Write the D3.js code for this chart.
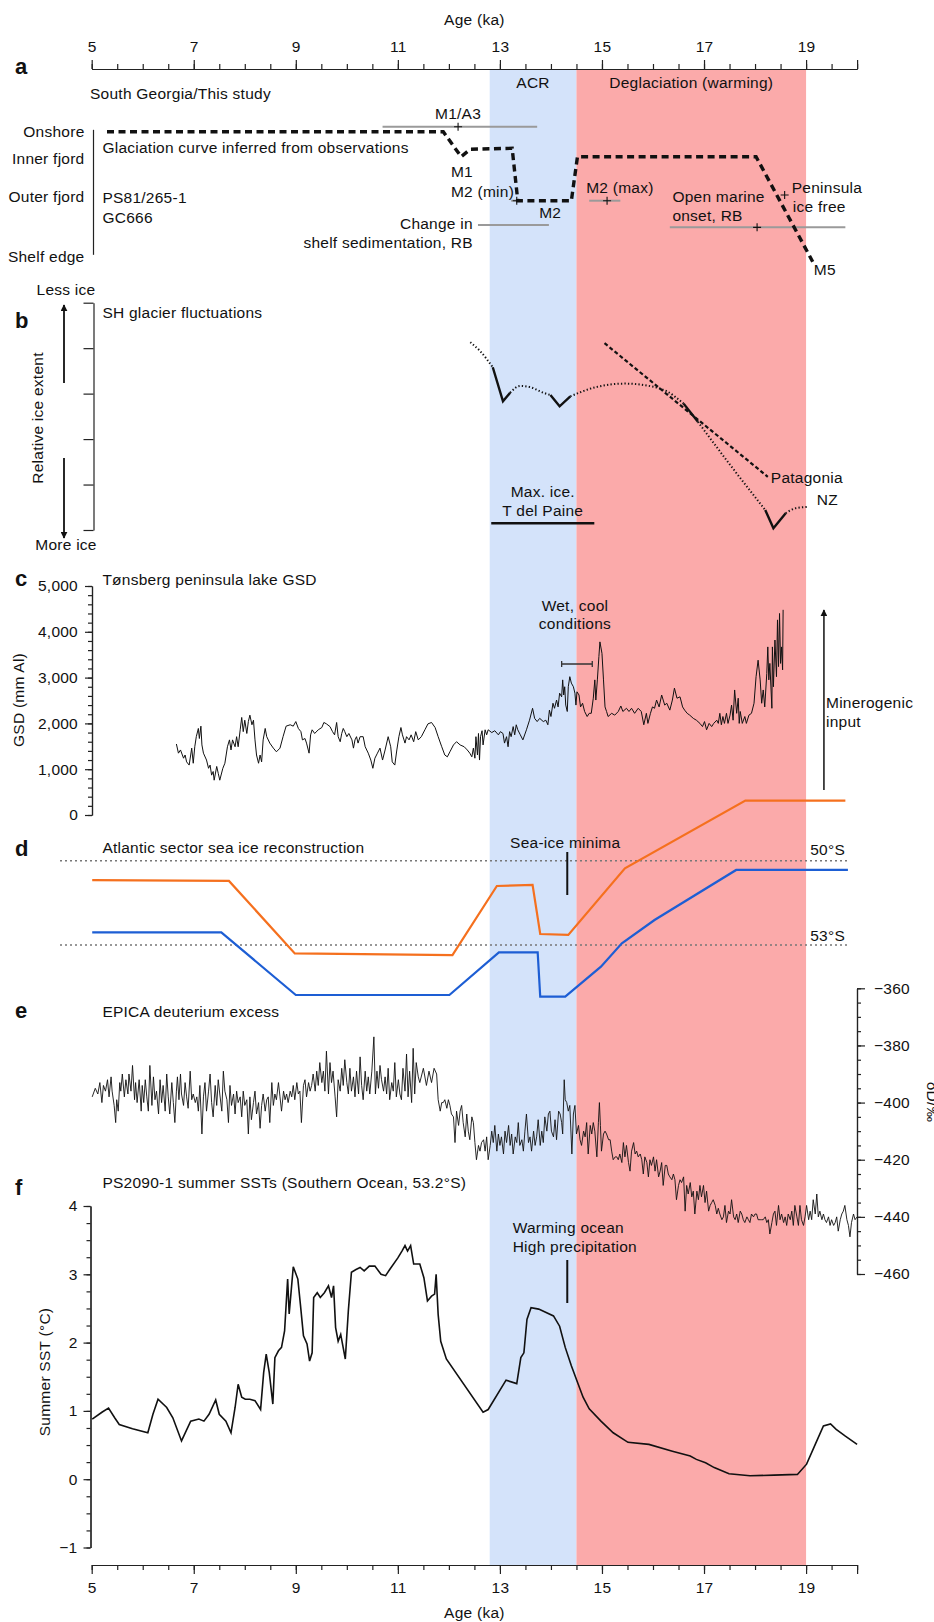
<!DOCTYPE html>
<html>
<head>
<meta charset="utf-8">
<script src="https://cdn.jsdelivr.net/npm/d3@7"></script>
<style>
  body { margin: 0; background: #fff; }
  svg text { font-family: "Liberation Sans", Arial, sans-serif; font-size: 15.5px; letter-spacing: 0.25px; fill: #111; }
  .axis path, .axis line { stroke: #222; stroke-width: 1.2; }
  .axis text { font-size: 15.5px; }
</style>
</head>
<body>
<div id="chart"></div>
<script>
// ---- data ----
const ageMajor = [5, 7, 9, 11, 13, 15, 17, 19, 20];
const ageMinor = d3.range(5, 20.01, 0.5);
const acrBand = [12.8, 14.5];
const deglacBand = [14.5, 19.0];

// panel a: position 0 = onshore ... 10 = shelf edge
const aLevels = [["Onshore", 0], ["Inner fjord", 2.18], ["Outer fjord", 5.22], ["Shelf edge", 10]];
const glaciation = [[5.30, 0], [11.89, 0], [12.24, 2.0], [12.42, 1.4], [13.24, 1.33], [13.35, 5.52],
  [14.40, 5.52], [14.52, 2.0], [18.02, 2.0], [19.13, 10.4]];
// [from, to, position]
const ageRanges = [[10.70, 13.73, -0.4], [13.22, 13.45, 5.52], [14.75, 15.36, 5.52],
  [12.57, 13.96, 7.46], [16.33, 19.77, 7.65]];
// [age, position]
const ageMarks = [[12.18, -0.4], [13.33, 5.52], [15.10, 5.52], [18.04, 7.65], [18.58, 5.06]];

// panel b: relative ice extent, 0 = less ice ... 5 = more ice
const nzDotted = [
  [[12.42, 0.87], [12.6, 1.05], [12.86, 1.42]],
  [[13.2, 1.98], [13.4, 1.83], [13.6, 1.86], [13.85, 1.98], [13.99, 2.03]],
  [[14.38, 2.06], [14.87, 1.86], [15.45, 1.78], [15.92, 1.83], [16.27, 1.95], [16.6, 2.22]],
  [[16.88, 2.62], [17.5, 3.55], [18.2, 4.56]],
  [[18.6, 4.63], [18.8, 4.52], [19.05, 4.49]]
];
const nzSolid = [
  [[12.86, 1.42], [13.06, 2.17], [13.2, 1.98]],
  [[13.99, 2.03], [14.17, 2.28], [14.38, 2.06]],
  [[16.6, 2.22], [16.88, 2.62]],
  [[18.2, 4.56], [18.36, 4.96], [18.6, 4.63]]
];
const patagonia = [[15.05, 0.89], [18.25, 3.83]];
const maxIceTdP = [12.83, 14.85];

// panel c: GSD (mm Al)
const gsd = [[6.66,1550],[6.70,1350],[6.74,1420],[6.80,1240],[6.83,1310],[6.86,1160],[6.91,1090],[6.96,1460],[6.99,1130],[7.02,1490],[7.05,1710],[7.09,1890],[7.11,1670],[7.14,1940],[7.16,1530],[7.19,1350],[7.25,1200],[7.29,1020],[7.32,1090],[7.35,870],[7.38,950],[7.40,760],[7.45,1060],[7.48,910],[7.51,760],[7.57,1020],[7.61,1130],[7.66,1490],[7.70,1640],[7.73,1420],[7.76,1640],[7.81,1490],[7.84,1710],[7.87,1490],[7.91,1860],[7.94,2130],[7.97,1820],[8.00,2070],[8.04,1780],[8.07,2040],[8.10,2180],[8.14,1970],[8.17,2070],[8.20,1640],[8.23,1310],[8.27,1130],[8.30,1310],[8.33,1160],[8.36,1640],[8.40,1890],[8.43,1710],[8.49,1570],[8.56,1460],[8.62,1380],[8.69,1460],[8.75,1710],[8.81,1940],[8.89,1970],[8.95,1940],[9.00,2040],[9.05,1890],[9.10,1820],[9.13,1640],[9.18,1670],[9.21,1570],[9.26,1350],[9.29,1750],[9.32,1860],[9.37,1780],[9.44,1860],[9.51,1910],[9.55,2020],[9.60,1990],[9.67,1930],[9.72,1820],[9.76,1750],[9.80,2020],[9.83,1710],[9.87,1600],[9.90,1780],[9.93,1890],[9.96,1820],[10.00,1710],[10.04,1780],[10.10,1640],[10.13,1460],[10.16,1640],[10.19,1710],[10.22,1570],[10.26,1710],[10.32,1710],[10.36,1490],[10.42,1350],[10.47,1200],[10.51,1020],[10.55,1240],[10.60,1350],[10.65,1460],[10.70,1200],[10.75,1420],[10.81,1710],[10.86,1490],[10.89,1160],[10.94,1090],[10.98,1420],[11.02,1710],[11.06,1910],[11.09,1750],[11.14,1570],[11.17,1710],[11.22,1640],[11.26,1750],[11.31,1600],[11.35,1820],[11.40,1640],[11.46,1710],[11.53,1860],[11.59,1990],[11.66,2020],[11.73,1910],[11.79,1710],[11.86,1490],[11.92,1310],[11.97,1270],[12.02,1380],[12.09,1530],[12.15,1600],[12.22,1530],[12.30,1490],[12.36,1420],[12.41,1350],[12.45,1270],[12.48,1460],[12.51,1240],[12.53,1710],[12.56,1310],[12.58,1780],[12.60,1200],[12.62,1710],[12.65,1840],[12.67,1530],[12.71,1860],[12.74,1750],[12.77,1860],[12.84,1800],[12.90,1840],[12.97,1750],[13.01,1820],[13.06,1780],[13.09,1570],[13.13,1710],[13.16,1490],[13.19,1820],[13.22,1710],[13.26,1930],[13.29,1750],[13.32,1970],[13.35,1860],[13.40,1750],[13.45,1640],[13.52,1860],[13.58,2070],[13.64,2330],[13.68,2110],[13.73,2040],[13.78,2110],[13.85,2040],[13.90,2070],[13.94,1970],[13.97,2290],[14.00,2150],[14.04,2440],[14.07,2330],[14.11,2510],[14.14,2360],[14.17,2660],[14.21,2580],[14.23,2950],[14.25,2620],[14.27,2800],[14.29,2400],[14.32,2260],[14.34,2800],[14.37,3020],[14.40,2880],[14.44,2800],[14.47,2660],[14.49,2400],[14.51,2690],[14.55,2620],[14.58,2360],[14.62,2440],[14.66,2260],[14.71,2150],[14.75,2220],[14.79,2220],[14.83,2550],[14.86,2950],[14.88,2510],[14.91,2950],[14.94,3460],[14.96,3780],[15.00,3530],[15.03,2950],[15.06,2360],[15.09,2260],[15.12,2150],[15.19,2220],[15.25,2180],[15.32,2260],[15.37,2380],[15.41,2260],[15.48,2330],[15.53,2260],[15.58,2330],[15.64,2220],[15.71,2330],[15.77,2260],[15.82,1970],[15.87,2220],[15.90,2000],[15.95,2220],[15.99,2360],[16.03,2330],[16.07,2510],[16.12,2360],[16.17,2620],[16.20,2510],[16.23,2400],[16.27,2440],[16.33,2290],[16.38,2510],[16.42,2770],[16.47,2550],[16.53,2580],[16.58,2360],[16.62,2290],[16.67,2220],[16.72,2180],[16.79,2110],[16.85,2070],[16.92,2000],[16.97,1930],[17.01,2040],[17.05,1860],[17.10,2000],[17.15,1930],[17.19,2000],[17.25,2070],[17.28,2000],[17.31,2220],[17.34,1970],[17.37,2150],[17.40,2000],[17.44,2220],[17.47,2000],[17.51,2180],[17.54,2400],[17.57,2070],[17.60,2730],[17.64,2220],[17.67,2550],[17.69,2000],[17.71,2260],[17.75,2000],[17.80,2150],[17.83,2000],[17.88,2180],[17.93,2220],[17.98,2440],[18.02,3020],[18.06,3380],[18.10,2950],[18.13,2440],[18.16,2730],[18.19,2360],[18.23,3090],[18.25,3670],[18.27,2950],[18.29,3310],[18.33,2330],[18.34,3670],[18.36,2800],[18.39,3820],[18.42,3020],[18.44,4260],[18.46,3240],[18.48,4400],[18.50,3310],[18.52,3670],[18.54,3170],[18.55,4480]];
const gsdTicks = [0, 1000, 2000, 3000, 4000, 5000];
const wetCoolRange = [14.21, 14.81];

// panel d: sea ice edge latitude (deg S)
const seaIceOrange = [[5.01,50.69],[7.69,50.72],[8.98,53.30],[12.07,53.36],[12.94,50.90],[13.64,50.86],[13.79,52.61],[14.34,52.64],[15.45,50.27],[17.81,47.86],[19.77,47.86]];
const seaIceBlue = [[5.01,52.55],[7.54,52.55],[9.00,54.78],[12.01,54.78],[12.98,53.26],[13.74,53.26],[13.79,54.84],[14.28,54.84],[14.98,53.77],[15.39,52.94],[16.03,52.11],[17.63,50.33],[19.82,50.33]];
const latRefs = [50, 53];
const seaIceMinimaAge = 14.32;

// panel e: EPICA dD (permil)
const epica = [[5.01,-398],[5.07,-395],[5.12,-397],[5.16,-393],[5.20,-400],[5.23,-394],[5.27,-396],[5.31,-392],[5.34,-398],[5.38,-391],[5.40,-396],[5.44,-401],[5.47,-407],[5.49,-399],[5.52,-403],[5.55,-393],[5.57,-396],[5.60,-390],[5.64,-398],[5.67,-392],[5.71,-397],[5.73,-390],[5.77,-396],[5.80,-387],[5.84,-399],[5.86,-393],[5.89,-400],[5.93,-392],[5.97,-403],[5.99,-394],[6.02,-400],[6.05,-392],[6.08,-398],[6.11,-403],[6.14,-387],[6.18,-401],[6.21,-391],[6.24,-399],[6.27,-396],[6.31,-404],[6.34,-392],[6.37,-400],[6.40,-394],[6.44,-403],[6.47,-390],[6.50,-398],[6.53,-404],[6.57,-393],[6.60,-400],[6.63,-407],[6.66,-396],[6.68,-391],[6.71,-399],[6.74,-390],[6.76,-397],[6.80,-401],[6.83,-393],[6.86,-398],[6.89,-402],[6.93,-389],[6.96,-399],[6.99,-397],[7.03,-400],[7.06,-398],[7.09,-403],[7.12,-394],[7.16,-411],[7.19,-398],[7.22,-393],[7.25,-403],[7.29,-396],[7.32,-390],[7.35,-400],[7.38,-405],[7.42,-394],[7.45,-401],[7.48,-392],[7.51,-397],[7.55,-403],[7.58,-389],[7.61,-396],[7.65,-399],[7.68,-407],[7.71,-394],[7.74,-401],[7.78,-397],[7.81,-404],[7.84,-396],[7.87,-400],[7.91,-398],[7.94,-405],[7.97,-396],[8.00,-401],[8.04,-399],[8.07,-411],[8.10,-398],[8.13,-406],[8.17,-400],[8.20,-396],[8.23,-404],[8.27,-400],[8.30,-409],[8.33,-401],[8.36,-397],[8.40,-403],[8.43,-399],[8.46,-398],[8.49,-407],[8.53,-393],[8.56,-401],[8.59,-397],[8.62,-399],[8.66,-393],[8.69,-398],[8.72,-403],[8.76,-396],[8.79,-399],[8.82,-397],[8.85,-400],[8.89,-396],[8.92,-398],[8.95,-394],[8.98,-399],[9.02,-393],[9.05,-397],[9.08,-396],[9.11,-407],[9.15,-394],[9.18,-392],[9.21,-398],[9.25,-393],[9.28,-396],[9.31,-394],[9.34,-390],[9.38,-396],[9.41,-389],[9.44,-394],[9.47,-386],[9.51,-393],[9.54,-389],[9.57,-396],[9.60,-382],[9.64,-397],[9.67,-386],[9.70,-393],[9.73,-389],[9.77,-398],[9.80,-405],[9.83,-392],[9.87,-396],[9.90,-388],[9.93,-394],[9.96,-385],[10.00,-393],[10.03,-397],[10.06,-388],[10.09,-396],[10.13,-391],[10.16,-398],[10.19,-389],[10.23,-397],[10.26,-384],[10.29,-394],[10.32,-399],[10.36,-389],[10.39,-396],[10.42,-391],[10.45,-397],[10.49,-389],[10.53,-377],[10.56,-397],[10.59,-389],[10.62,-395],[10.65,-387],[10.68,-392],[10.72,-396],[10.75,-391],[10.78,-397],[10.81,-388],[10.84,-399],[10.88,-393],[10.91,-396],[10.94,-386],[10.97,-398],[11.01,-392],[11.04,-397],[11.07,-399],[11.10,-388],[11.14,-396],[11.17,-383],[11.20,-398],[11.23,-389],[11.27,-400],[11.30,-381],[11.33,-397],[11.36,-386],[11.40,-391],
  [11.43,-393],[11.50,-388],[11.56,-394],[11.61,-389],[11.66,-393],[11.71,-388],[11.76,-390],[11.79,-399],[11.83,-403],[11.86,-400],[11.89,-400],[11.92,-399],[11.96,-402],[11.99,-399],[12.02,-401],[12.05,-404],[12.09,-405],[12.12,-414],[12.15,-403],[12.19,-408],[12.22,-403],[12.25,-401],[12.28,-407],[12.32,-412],[12.35,-404],[12.38,-410],[12.41,-413],[12.45,-405],[12.48,-407],[12.51,-414],[12.54,-420],[12.58,-415],[12.61,-417],[12.64,-414],[12.68,-413],[12.71,-417],[12.74,-412],[12.77,-420],[12.81,-415],[12.84,-410],[12.87,-414],[12.90,-408],[12.94,-417],[12.97,-411],[13.00,-415],[13.03,-412],[13.07,-418],[13.10,-410],[13.13,-414],[13.17,-408],[13.20,-415],[13.23,-411],[13.26,-418],[13.30,-412],[13.33,-414],[13.36,-407],[13.39,-415],[13.43,-413],[13.46,-417],[13.49,-410],[13.52,-404],[13.56,-414],[13.59,-412],[13.62,-417],[13.66,-410],[13.69,-415],[13.72,-412],[13.75,-406],[13.79,-415],[13.82,-410],[13.85,-414],[13.88,-405],[13.92,-410],[13.95,-404],[13.98,-403],[14.01,-410],[14.05,-412],[14.08,-406],[14.11,-413],[14.15,-403],[14.18,-404],[14.21,-407],[14.23,-411],[14.26,-392],[14.28,-399],[14.31,-400],[14.34,-403],[14.37,-401],[14.41,-418],[14.44,-404],[14.47,-401],[14.50,-411],[14.54,-408],[14.57,-413],[14.60,-415],[14.64,-410],[14.67,-412],[14.70,-407],[14.73,-418],[14.77,-408],[14.80,-411],[14.83,-407],[14.86,-410],[14.90,-419],[14.93,-407],[14.95,-400],[14.97,-408],[14.99,-417],[15.03,-411],[15.06,-410],[15.09,-411],[15.13,-413],[15.16,-413],[15.19,-417],[15.22,-420],[15.26,-419],[15.29,-419],[15.32,-420],[15.35,-418],[15.39,-421],[15.42,-414],[15.45,-419],[15.48,-415],[15.52,-421],[15.55,-424],[15.58,-417],[15.62,-414],[15.65,-418],[15.68,-417],[15.71,-419],[15.75,-418],[15.78,-420],[15.81,-425],[15.84,-419],[15.88,-421],[15.91,-426],[15.94,-420],[15.97,-422],[16.01,-419],[16.04,-424],[16.07,-420],[16.11,-426],[16.14,-424],[16.17,-421],[16.20,-429],[16.24,-422],[16.27,-422],[16.30,-425],[16.33,-426],[16.37,-427],[16.40,-425],[16.43,-427],[16.46,-434],[16.50,-429],[16.53,-427],[16.56,-428],[16.60,-426],[16.63,-438],[16.66,-429],[16.69,-432],[16.73,-428],[16.76,-433],[16.79,-431],[16.82,-439],[16.86,-431],[16.89,-434],[16.92,-429],[16.95,-433],[16.99,-429],[17.02,-435],[17.05,-431],[17.09,-438],[17.12,-436],[17.15,-435],[17.18,-434],[17.22,-436],[17.25,-439],[17.28,-437],[17.31,-439],[17.35,-441],[17.38,-440],[17.41,-436],[17.44,-442],[17.48,-438],[17.51,-439],[17.54,-434],[17.58,-440],[17.61,-441],[17.64,-439],[17.67,-442],[17.71,-438],[17.74,-439],[17.77,-441],[17.80,-442],[17.84,-440],[17.87,-441],[17.90,-442],[17.93,-439],[17.97,-440],[18.00,-439],[18.03,-439],[18.06,-441],[18.10,-441],[18.13,-441],[18.16,-441],[18.20,-440],[18.23,-442],[18.26,-441],[18.29,-446],[18.33,-442],[18.36,-439],[18.39,-438],[18.42,-443],[18.46,-436],[18.49,-441],[18.52,-439],[18.56,-442],[18.59,-440],[18.62,-443],[18.65,-439],[18.69,-441],[18.72,-438],[18.75,-443],[18.78,-436],[18.82,-440],[18.85,-443],[18.88,-436],[18.91,-441],[18.95,-443],[18.98,-440],[19.01,-436],[19.05,-441],[19.08,-438],[19.11,-441],[19.14,-434],[19.18,-439],[19.21,-432],[19.24,-440],[19.27,-438],[19.31,-441],[19.34,-439],[19.37,-441],[19.40,-442],[19.44,-440],[19.47,-443],[19.50,-441],[19.54,-443],[19.57,-442],[19.60,-440],[19.63,-445],[19.67,-441],[19.70,-439],[19.73,-438],[19.76,-436],[19.80,-441],[19.83,-443],[19.86,-447],[19.89,-442],[19.93,-439],[19.96,-441],[20.00,-440]];
const epicaTicks = [-360, -380, -400, -420, -440, -460];

// panel f: summer SST (deg C)
const sst = [[5.01,0.88],[5.20,0.98],[5.33,1.04],[5.45,0.90],[5.54,0.80],[5.80,0.74],[6.10,0.68],[6.20,0.95],[6.30,1.17],[6.47,1.05],[6.59,0.90],[6.76,0.56],[6.94,0.85],[7.10,0.88],[7.20,0.85],[7.30,0.95],[7.43,1.16],[7.50,0.95],[7.63,0.85],[7.73,0.68],[7.81,1.05],[7.87,1.39],[7.94,1.20],[8.01,1.17],[8.10,1.17],[8.20,1.15],[8.31,1.02],[8.37,1.56],[8.42,1.83],[8.48,1.56],[8.55,1.10],[8.59,1.78],[8.66,1.88],[8.72,1.93],[8.78,2.17],[8.84,2.93],[8.87,2.42],[8.91,2.76],[8.95,3.11],[9.04,2.93],[9.09,2.56],[9.15,2.10],[9.22,1.98],[9.27,1.73],[9.32,1.85],[9.35,2.66],[9.42,2.73],[9.48,2.66],[9.56,2.73],[9.64,2.83],[9.70,2.66],[9.74,2.83],[9.78,2.22],[9.83,2.02],[9.88,2.12],[9.97,1.76],[10.03,2.47],[10.09,3.03],[10.18,3.07],[10.26,3.10],[10.34,3.05],[10.44,3.12],[10.55,3.12],[10.67,3.00],[10.76,2.98],[10.84,3.07],[11.00,3.24],[11.08,3.34],[11.14,3.42],[11.19,3.34],[11.25,3.42],[11.31,3.15],[11.43,3.15],[11.51,2.95],[11.58,2.61],[11.66,2.68],[11.72,2.71],[11.75,3.00],[11.79,2.41],[11.84,2.02],[11.95,1.76],[12.67,0.98],[12.77,1.02],[13.12,1.45],[13.33,1.40],[13.41,1.78],[13.47,1.85],[13.53,2.34],[13.61,2.51],[13.76,2.49],[14.05,2.39],[14.17,2.24],[14.28,1.93],[14.40,1.66],[14.52,1.42],[14.63,1.20],[14.75,1.03],[14.98,0.85],[15.22,0.68],[15.51,0.54],[15.92,0.51],[16.38,0.41],[16.73,0.34],[16.85,0.29],[17.03,0.24],[17.20,0.17],[17.49,0.08],[17.90,0.05],[18.37,0.06],[18.83,0.07],[19.01,0.22],[19.18,0.51],[19.34,0.78],[19.48,0.81],[19.59,0.73],[19.77,0.63],[20.00,0.51]];
const sstTicks = [-1, 0, 1, 2, 3, 4];

// ---- drawing ----
const W = 934, H = 1622;
const svg = d3.select("#chart").append("svg").attr("width", W).attr("height", H);

svg.append("defs").append("marker")
  .attr("id", "arrow").attr("viewBox", "0 0 10 10").attr("refX", 9).attr("refY", 5)
  .attr("markerWidth", 7).attr("markerHeight", 7).attr("markerUnits", "userSpaceOnUse")
  .attr("orient", "auto-start-reverse")
  .append("path").attr("d", "M0,0L10,5L0,10z").attr("fill", "#111");

const x = d3.scaleLinear().domain([5, 20]).range([91.7, 857.1]);
const yA = d3.scaleLinear().domain([0, 10]).range([131.7, 256.7]);
const yB = d3.scaleLinear().domain([0, 5]).range([302.7, 530]);
const yC = d3.scaleLinear().domain([0, 5000]).range([815, 586]);
const yD = d3.scaleLinear().domain([50, 53]).range([860.7, 945]);
const yE = d3.scaleLinear().domain([-360, -460]).range([988.3, 1274]);
const yF = d3.scaleLinear().domain([4, -1]).range([1206, 1547.5]);

function text(x0, y0, s, anchor, extra) {
  const t = svg.append("text").attr("x", x0).attr("y", y0).attr("text-anchor", anchor || "start").text(s);
  if (extra) extra(t);
  return t;
}

// background bands
[[acrBand, "#d4e3fa"], [deglacBand, "#fbaaaa"]].forEach(([b, c]) => {
  svg.append("rect").attr("x", x(b[0])).attr("width", x(b[1]) - x(b[0]))
    .attr("y", 70).attr("height", 1565 - 70).attr("fill", c);
});

// age axes
const topG = svg.append("g").attr("class", "axis").attr("transform", "translate(0,69)");
topG.call(d3.axisTop(x).tickValues(ageMinor).tickSize(5).tickSizeOuter(0).tickFormat(""));
topG.append("g").call(d3.axisTop(x).tickValues(ageMajor).tickSize(9).tickSizeOuter(0).tickPadding(8)
  .tickFormat(d => d === 20 ? "" : d));
const botG = svg.append("g").attr("class", "axis").attr("transform", "translate(0,1565)");
botG.call(d3.axisBottom(x).tickValues(ageMinor).tickSize(5).tickSizeOuter(0).tickFormat(""));
botG.append("g").call(d3.axisBottom(x).tickValues(ageMajor).tickSize(9).tickSizeOuter(0).tickPadding(8)
  .tickFormat(d => d === 20 ? "" : d));
text(x(12.5), 25, "Age (ka)", "middle");
text(x(12.5), 1618, "Age (ka)", "middle");

// panel letters
[["a", 74], ["b", 328], ["c", 586], ["d", 856], ["e", 1018], ["f", 1195]].forEach(([l, yy]) => {
  text(15, yy, l, "start", t => t.style("font-size", "22px").style("font-weight", "bold"));
});

// band labels
text(x(13.65), 88, "ACR", "middle");
text(x(16.75), 88, "Deglaciation (warming)", "middle");

// ---- panel a ----
text(90, 99, "South Georgia/This study");
svg.append("line").attr("x1", 93.5).attr("x2", 93.5).attr("y1", yA(-0.15)).attr("y2", yA(9.85))
  .attr("stroke", "#222").attr("stroke-width", 1.2);
aLevels.forEach(([l, v]) => text(84.5, yA(v) + 5, l, "end"));
text(102.4, 153, "Glaciation curve inferred from observations");
text(102.4, 203, "PS81/265-1");
text(102.4, 223, "GC666");

svg.selectAll(".rng").data(ageRanges).enter().append("line")
  .attr("x1", d => x(d[0])).attr("x2", d => x(d[1]))
  .attr("y1", d => yA(d[2])).attr("y2", d => yA(d[2]))
  .attr("stroke", "#9a9a9a").attr("stroke-width", 2);

svg.append("path").datum(glaciation)
  .attr("d", d3.line().x(d => x(d[0])).y(d => yA(d[1])))
  .attr("fill", "none").attr("stroke", "#111").attr("stroke-width", 3.4).attr("stroke-dasharray", "7,4.5");

ageMarks.forEach(([a, p]) => {
  const cx = x(a), cy = yA(p);
  svg.append("path").attr("d", `M${cx - 4},${cy}H${cx + 4}M${cx},${cy - 4}V${cy + 4}`)
    .attr("stroke", "#111").attr("stroke-width", 1.1);
});
text(x(12.18), 119, "M1/A3", "middle");
text(x(12.04), 177, "M1");
text(x(12.04), 197, "M2 (min)");
text(x(13.77), 218, "M2");
text(x(14.69), 193, "M2 (max)");
text(x(12.47), 229, "Change in", "end");
text(x(12.47), 248, "shelf sedimentation, RB", "end");
text(x(16.38), 202, "Open marine");
text(x(16.38), 221, "onset, RB");
text(x(18.72), 193, "Peninsula");
text(x(18.74), 212, "ice free");
text(x(19.15), 275, "M5");

// ---- panel b ----
text(66, 295, "Less ice", "middle");
text(66, 550, "More ice", "middle");
svg.append("g").attr("class", "axis").attr("transform", "translate(93.5,0)")
  .call(d3.axisLeft(yB).tickValues([0, 1, 2, 3, 4, 5]).tickSize(10).tickSizeOuter(0).tickFormat(""));
svg.append("line").attr("x1", 64).attr("x2", 64).attr("y1", 383).attr("y2", 305)
  .attr("stroke", "#111").attr("stroke-width", 1.8).attr("marker-end", "url(#arrow)");
svg.append("line").attr("x1", 64).attr("x2", 64).attr("y1", 458).attr("y2", 538)
  .attr("stroke", "#111").attr("stroke-width", 1.8).attr("marker-end", "url(#arrow)");
text(0, 0, "Relative ice extent", "middle", t => t.attr("transform", "translate(43,418) rotate(-90)"));
text(102.4, 318, "SH glacier fluctuations");

const lineB = d3.line().x(d => x(d[0])).y(d => yB(d[1]));
nzDotted.forEach(seg => svg.append("path").datum(seg).attr("d", lineB.curve(d3.curveMonotoneX))
  .attr("fill", "none").attr("stroke", "#111").attr("stroke-width", 2).attr("stroke-dasharray", "1.3,2.2"));
lineB.curve(d3.curveLinear);
nzSolid.forEach(seg => svg.append("path").datum(seg).attr("d", lineB)
  .attr("fill", "none").attr("stroke", "#111").attr("stroke-width", 2.4));
svg.append("path").datum(patagonia).attr("d", lineB)
  .attr("fill", "none").attr("stroke", "#111").attr("stroke-width", 2.2).attr("stroke-dasharray", "4,2.5");
text(x(18.31), 483, "Patagonia");
text(x(19.21), 505, "NZ");
text(x(13.84), 497, "Max. ice.", "middle");
text(x(13.84), 516, "T del Paine", "middle");
svg.append("line").attr("x1", x(maxIceTdP[0])).attr("x2", x(maxIceTdP[1]))
  .attr("y1", 523.3).attr("y2", 523.3).attr("stroke", "#111").attr("stroke-width", 2.5);

// ---- panel c ----
const gC = svg.append("g").attr("class", "axis").attr("transform", "translate(92,0)");
gC.call(d3.axisLeft(yC).tickValues(d3.range(0, 5001, 200)).tickSize(4).tickSizeOuter(0).tickFormat(""));
gC.append("g").call(d3.axisLeft(yC).tickValues(gsdTicks).tickSize(7).tickSizeOuter(0).tickPadding(7)
  .tickFormat(d3.format(",")));
text(0, 0, "GSD (mm Al)", "middle", t => t.attr("transform", "translate(24,700) rotate(-90)"));
text(102.4, 585, "Tønsberg peninsula lake GSD");
svg.append("path").datum(gsd)
  .attr("d", d3.line().x(d => x(d[0])).y(d => yC(d[1])))
  .attr("fill", "none").attr("stroke", "#111").attr("stroke-width", 1);
text(x(14.47), 611, "Wet, cool", "middle");
text(x(14.47), 629, "conditions", "middle");
svg.append("path").attr("d", `M${x(wetCoolRange[0])},664H${x(wetCoolRange[1])}M${x(wetCoolRange[0])},661V667M${x(wetCoolRange[1])},661V667`)
  .attr("stroke", "#333").attr("stroke-width", 1.3).attr("fill", "none");
svg.append("line").attr("x1", x(19.35)).attr("x2", x(19.35)).attr("y1", 790).attr("y2", 610)
  .attr("stroke", "#111").attr("stroke-width", 1.5).attr("marker-end", "url(#arrow)");
text(x(19.39), 708, "Minerogenic");
text(x(19.39), 727, "input");

// ---- panel d ----
latRefs.forEach(l => svg.append("line").attr("x1", 60).attr("x2", 848).attr("y1", yD(l)).attr("y2", yD(l))
  .attr("stroke", "#777").attr("stroke-width", 1.6).attr("stroke-dasharray", "2,3"));
text(845, yD(50) - 6, "50°S", "end");
text(845, yD(53) - 4, "53°S", "end");
text(102.4, 853, "Atlantic sector sea ice reconstruction");
const lineD = d3.line().x(d => x(d[0])).y(d => yD(d[1]));
svg.append("path").datum(seaIceOrange).attr("d", lineD).attr("fill", "none").attr("stroke", "#f5701e").attr("stroke-width", 2.2);
svg.append("path").datum(seaIceBlue).attr("d", lineD).attr("fill", "none").attr("stroke", "#1d5ed4").attr("stroke-width", 2.2);
text(x(14.28), 848, "Sea-ice minima", "middle");
svg.append("line").attr("x1", x(seaIceMinimaAge)).attr("x2", x(seaIceMinimaAge)).attr("y1", 852).attr("y2", 895)
  .attr("stroke", "#111").attr("stroke-width", 2);

// ---- panel e ----
text(102.4, 1017, "EPICA deuterium excess");
const gE = svg.append("g").attr("class", "axis").attr("transform", "translate(857,0)");
gE.call(d3.axisRight(yE).tickValues(d3.range(-460, -359, 5)).tickSize(4).tickSizeOuter(0).tickFormat(""));
gE.append("g").call(d3.axisRight(yE).tickValues(epicaTicks).tickSize(8).tickSizeOuter(0).tickPadding(9));
text(0, 0, "δD/‰", "middle", t => t.attr("transform", "translate(927,1102) rotate(90)"));
svg.append("path").datum(epica)
  .attr("d", d3.line().x(d => x(d[0])).y(d => yE(d[1])))
  .attr("fill", "none").attr("stroke", "#111").attr("stroke-width", 0.9);

// ---- panel f ----
text(102.4, 1188, "PS2090-1 summer SSTs (Southern Ocean, 53.2°S)");
const gF = svg.append("g").attr("class", "axis").attr("transform", "translate(90.5,0)");
gF.call(d3.axisLeft(yF).tickValues(d3.range(-1, 4.01, 0.25)).tickSize(4).tickSizeOuter(0).tickFormat(""));
gF.append("g").call(d3.axisLeft(yF).tickValues(sstTicks).tickSize(7).tickSizeOuter(0).tickPadding(6)
  .tickFormat(d3.format("d")));
text(0, 0, "Summer SST (°C)", "middle", t => t.attr("transform", "translate(50,1372) rotate(-90)"));
svg.append("path").datum(sst)
  .attr("d", d3.line().x(d => x(d[0])).y(d => yF(d[1])))
  .attr("fill", "none").attr("stroke", "#111").attr("stroke-width", 1.6);
text(x(13.25), 1233, "Warming ocean");
text(x(13.25), 1252, "High precipitation");
svg.append("line").attr("x1", x(seaIceMinimaAge)).attr("x2", x(seaIceMinimaAge)).attr("y1", 1260).attr("y2", 1303)
  .attr("stroke", "#111").attr("stroke-width", 2);

// axis text styling
svg.selectAll(".axis text").attr("fill", "#111")
  .style("font-family", '"Liberation Sans", Arial, sans-serif').style("font-size", "15.5px");
</script>
</body>
</html>
